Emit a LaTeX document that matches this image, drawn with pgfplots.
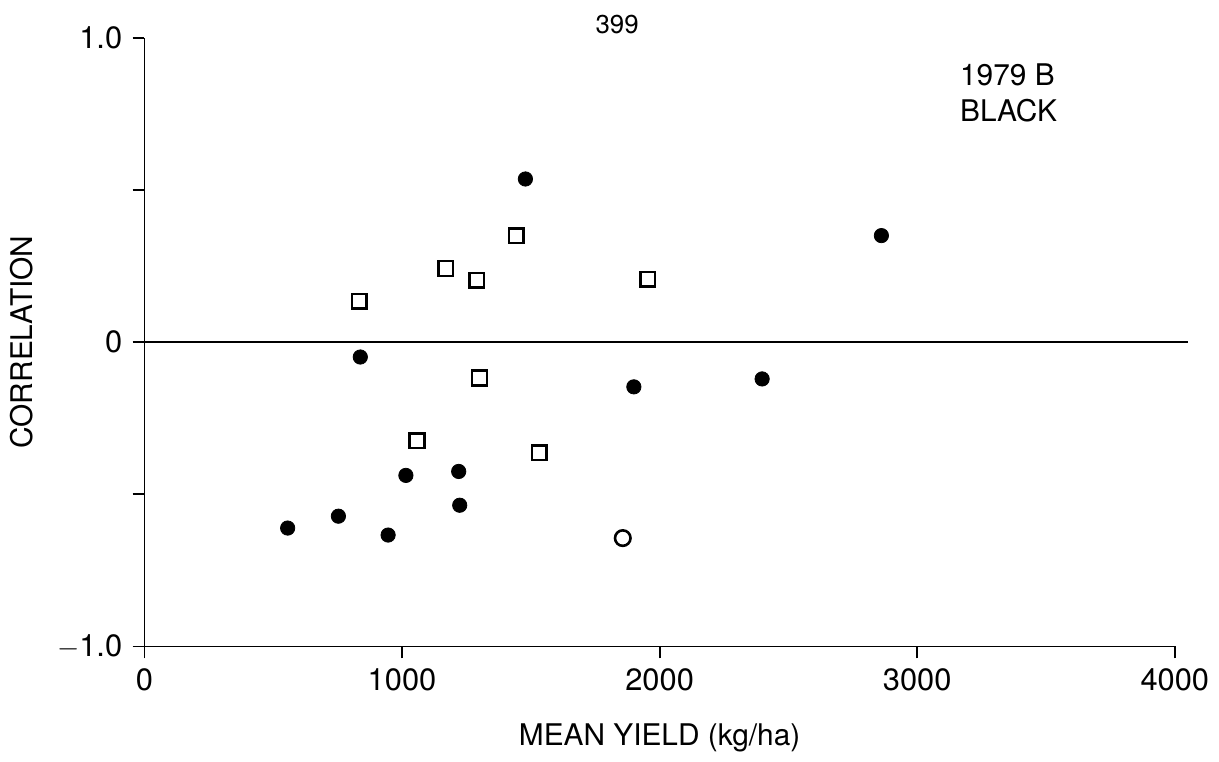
\documentclass[border=0pt]{standalone}
\usepackage{pgfplots}
\pgfplotsset{compat=1.18}
\usepackage{fontspec}
\setmainfont{TeX Gyre Heros}
\begin{document}
\fontsize{15}{18}\selectfont
\begin{tikzpicture}
\begin{axis}[
  scale only axis,
  width=518pt, height=306pt,
  xmin=0, xmax=4000, ymin=-1, ymax=1,
  axis lines=left,
  axis line style={-, line width=0.9pt},
  xtick={0,1000,2000,3000,4000},
  xticklabels={0,1000,2000,3000,4000},
  ytick={-1,-0.5,0,0.5,1},
  yticklabels={$-$1.0,,0,,1.0},
  tick align=outside,
  major tick length=6pt,
  tick style={line width=0.9pt, black},
  /pgf/number format/assume math mode=true,
  ticklabel style={font=\fontsize{15.5}{18}\selectfont},
  xlabel={MEAN YIELD (kg/ha)},
  ylabel={CORRELATION},
  label style={font=\fontsize{15}{18}\selectfont},
  xlabel style={yshift=-6pt},
  ylabel style={yshift=2pt},
  clip=false,
]
\addplot[black, line width=0.8pt] coordinates {(0,0) (4050,0)};
% filled circles
\addplot[only marks, mark=*, mark size=3.6pt, black] coordinates {
(1479,0.536) (2861,0.350) (838,-0.049) (1900,-0.147) (2398,-0.121)
(1015,-0.438) (1220,-0.425) (1224,-0.536) (753,-0.572) (556,-0.611) (946,-0.634)
};
% open squares
\addplot[only marks, mark=square, mark size=3.7pt, black, line width=1.3pt] coordinates {
(834,0.134) (1170,0.242) (1290,0.203) (1444,0.350) (1954,0.206)
(1301,-0.118) (1058,-0.324) (1533,-0.363)
};
% open circle
\addplot[only marks, mark=o, mark size=3.9pt, black, line width=1.3pt] coordinates {
(1857,-0.644)
};
\node[anchor=north west, align=left, inner sep=0pt, font=\fontsize{15}{18}\selectfont] at (axis cs:3165,0.915) {1979 B\\BLACK};
\node[font=\fontsize{13}{15}\selectfont] at (axis cs:1835,1.045) {399};
\coordinate (sw) at (rel axis cs:0,0);
\coordinate (ne) at (rel axis cs:1,1);
\end{axis}
\useasboundingbox ([xshift=-72.5pt,yshift=-55pt]sw) rectangle ([xshift=19pt,yshift=19pt]ne);
\end{tikzpicture}
\end{document}
